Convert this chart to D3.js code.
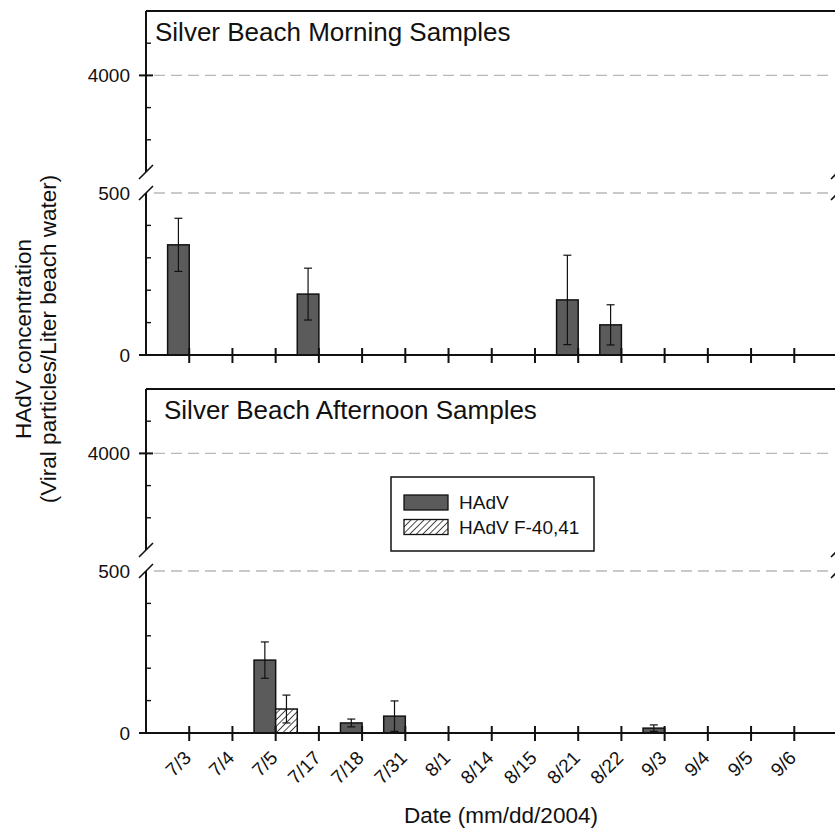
<!DOCTYPE html>
<html>
<head>
<meta charset="utf-8">
<script src="https://cdn.jsdelivr.net/npm/d3@7"></script>
<style>
  html, body { margin: 0; padding: 0; background: #fff; }
  svg { display: block; }
  text { font-family: "Liberation Sans", Arial, Helvetica, sans-serif; fill: #111; }
</style>
</head>
<body>
<div id="chart"></div>
<script>
// ---- data ----
const categories = ["7/3","7/4","7/5","7/17","7/18","7/31","8/1","8/14","8/15","8/21","8/22","9/3","9/4","9/5","9/6"];
const seriesNames = ["HAdV", "HAdV F-40,41"];
const panelTitles = ["Silver Beach Morning Samples", "Silver Beach Afternoon Samples"];

const morningHAdV     = [340, 0, 0, 188, 0, 0, 0, 0, 0, 170, 93, 0, 0, 0, 0];
const morningHAdVErr  = [82, 0, 0, 80, 0, 0, 0, 0, 0, 138, 62, 0, 0, 0, 0];
const morningF        = [0, 0, 0, 0, 0, 0, 0, 0, 0, 0, 0, 0, 0, 0, 0];
const morningFErr     = [0, 0, 0, 0, 0, 0, 0, 0, 0, 0, 0, 0, 0, 0, 0];

const afternoonHAdV    = [0, 0, 225, 0, 31, 52, 0, 0, 0, 0, 0, 15, 0, 0, 0];
const afternoonHAdVErr = [0, 0, 56, 0, 12, 47, 0, 0, 0, 0, 0, 10, 0, 0, 0];
const afternoonF       = [0, 0, 74, 0, 0, 0, 0, 0, 0, 0, 0, 0, 0, 0, 0];
const afternoonFErr    = [0, 0, 43, 0, 0, 0, 0, 0, 0, 0, 0, 0, 0, 0, 0];

const upperDomain = [1000, 6000];
const lowerDomain = [0, 500];
const upperMinorTicks = [2000, 3000, 5000];
const upperMajorTicks = [4000];
const lowerMinorTicks = [100, 200, 300, 400];
const lowerLabelTicks = [0, 500];
const dashedValuesUpper = [4000];
const dashedValuesLower = [500];

const yTitleLines = ["HAdV concentration", "(Viral particles/Liter beach water)"];
const xTitle = "Date (mm/dd/2004)";

// ---- layout ----
const W = 835, H = 829;
const axisX = 146;
const barFill = "#5b5b5b";

const svg = d3.select("#chart").append("svg").attr("width", W).attr("height", H);

const defs = svg.append("defs");
const pat = defs.append("pattern")
  .attr("id", "hatch")
  .attr("patternUnits", "userSpaceOnUse")
  .attr("width", 4.6).attr("height", 4.6)
  .attr("patternTransform", "rotate(45)");
pat.append("rect").attr("width", 4.6).attr("height", 4.6).attr("fill", "#fff");
pat.append("line").attr("x1", 0).attr("y1", 0).attr("x2", 0).attr("y2", 4.6)
  .attr("stroke", "#111").attr("stroke-width", 1.5);

const x = d3.scaleBand().domain(categories).range([axisX, 837.5]).paddingInner(0).paddingOuter(0.5);
const bw = x.bandwidth() / 2;

const panels = [
  { title: panelTitles[0], top: 11, titleX: 155, h: morningHAdV, he: morningHAdVErr, f: morningF, fe: morningFErr, labels: false },
  { title: panelTitles[1], top: 389, titleX: 164, h: afternoonHAdV, he: afternoonHAdVErr, f: afternoonF, fe: afternoonFErr, labels: true }
];

panels.forEach(p => {
  const T = p.top;
  const yU = d3.scaleLinear().domain(upperDomain).range([T + 161, T]);
  const yL = d3.scaleLinear().domain(lowerDomain).range([T + 344, T + 182]);
  const g = svg.append("g");

  // dashed reference lines
  g.selectAll(".du").data(dashedValuesUpper).join("line")
    .attr("x1", axisX + 8).attr("x2", 828)
    .attr("y1", d => yU(d)).attr("y2", d => yU(d))
    .attr("stroke", "#b8b8b8").attr("stroke-width", 1.4).attr("stroke-dasharray", "11,6");
  g.selectAll(".dl").data(dashedValuesLower).join("line")
    .attr("x1", axisX + 8).attr("x2", 828)
    .attr("y1", d => yL(d)).attr("y2", d => yL(d))
    .attr("stroke", "#b8b8b8").attr("stroke-width", 1.4).attr("stroke-dasharray", "11,6");

  // frame top
  g.append("line").attr("x1", axisX).attr("x2", W).attr("y1", T).attr("y2", T)
    .attr("stroke", "#111").attr("stroke-width", 2);

  // y axis segments
  const bU = yU(upperDomain[0]), bL = yL(lowerDomain[1]);
  g.append("line").attr("x1", axisX).attr("x2", axisX).attr("y1", T).attr("y2", bU)
    .attr("stroke", "#111").attr("stroke-width", 2);
  g.append("line").attr("x1", axisX).attr("x2", axisX).attr("y1", bL).attr("y2", yL(0))
    .attr("stroke", "#111").attr("stroke-width", 2);
  // break marks (left and right)
  [axisX, 838].forEach(ax => {
    [bU, bL].forEach(by => {
      g.append("line").attr("x1", ax - 7).attr("y1", by + 7).attr("x2", ax + 7).attr("y2", by - 7)
        .attr("stroke", "#111").attr("stroke-width", 1.6);
    });
  });

  // minor ticks
  g.selectAll(".mu").data(upperMinorTicks).join("line")
    .attr("x1", axisX).attr("x2", axisX + 5)
    .attr("y1", d => yU(d)).attr("y2", d => yU(d))
    .attr("stroke", "#111").attr("stroke-width", 1.4);
  g.selectAll(".ml").data(lowerMinorTicks).join("line")
    .attr("x1", axisX).attr("x2", axisX + 5)
    .attr("y1", d => yL(d)).attr("y2", d => yL(d))
    .attr("stroke", "#111").attr("stroke-width", 1.4);
  g.selectAll(".Mu").data(upperMajorTicks).join("line")
    .attr("x1", axisX - 7).attr("x2", axisX + 7)
    .attr("y1", d => yU(d)).attr("y2", d => yU(d))
    .attr("stroke", "#111").attr("stroke-width", 2);

  // y labels
  g.selectAll(".lu").data(upperMajorTicks).join("text")
    .attr("x", 130).attr("y", d => yU(d)).attr("dy", "0.36em")
    .attr("text-anchor", "end").attr("font-size", 19).text(d => d);
  g.selectAll(".ll").data(lowerLabelTicks).join("text")
    .attr("x", 130).attr("y", d => yL(d)).attr("dy", "0.36em")
    .attr("text-anchor", "end").attr("font-size", 19).text(d => d);

  // title
  g.append("text").attr("x", p.titleX).attr("y", T + 30)
    .attr("font-size", 26).text(p.title);

  // bars
  const rowsH = categories.map((c, i) => ({ c, v: p.h[i], e: p.he[i] })).filter(d => d.v > 0);
  const rowsF = categories.map((c, i) => ({ c, v: p.f[i], e: p.fe[i] })).filter(d => d.v > 0);

  g.selectAll(".bh").data(rowsH).join("rect")
    .attr("x", d => x(d.c)).attr("width", bw)
    .attr("y", d => yL(d.v)).attr("height", d => yL(0) - yL(d.v))
    .attr("fill", barFill).attr("stroke", "#111").attr("stroke-width", 1.5);
  g.selectAll(".bf").data(rowsF).join("rect")
    .attr("x", d => x(d.c) + bw).attr("width", bw)
    .attr("y", d => yL(d.v)).attr("height", d => yL(0) - yL(d.v))
    .attr("fill", "url(#hatch)").attr("stroke", "#111").attr("stroke-width", 1.5);

  // error bars
  const errs = rowsH.map(d => ({ cx: x(d.c) + bw / 2, v: d.v, e: d.e }))
    .concat(rowsF.map(d => ({ cx: x(d.c) + bw * 1.5, v: d.v, e: d.e })));
  errs.forEach(d => {
    const lo = Math.max(0, d.v - d.e), hi = d.v + d.e;
    g.append("line").attr("x1", d.cx).attr("x2", d.cx).attr("y1", yL(lo)).attr("y2", yL(hi))
      .attr("stroke", "#111").attr("stroke-width", 1.2);
    [lo, hi].forEach(v => {
      g.append("line").attr("x1", d.cx - 4).attr("x2", d.cx + 4).attr("y1", yL(v)).attr("y2", yL(v))
        .attr("stroke", "#111").attr("stroke-width", 1.2);
    });
  });

  // x axis
  const y0 = yL(0);
  g.append("line").attr("x1", axisX - 7).attr("x2", W).attr("y1", y0).attr("y2", y0)
    .attr("stroke", "#111").attr("stroke-width", 2);
  g.selectAll(".xt").data(categories).join("line")
    .attr("x1", d => x(d) + bw).attr("x2", d => x(d) + bw)
    .attr("y1", y0 - 7).attr("y2", y0 + 8)
    .attr("stroke", "#111").attr("stroke-width", 2);
  if (p.labels) {
    g.selectAll(".xl").data(categories).join("text")
      .attr("transform", d => `translate(${x(d) + bw + 3},${y0 + 26}) rotate(-45)`)
      .attr("text-anchor", "end").attr("font-size", 19).text(d => d);
  }
});

// legend
const leg = svg.append("g");
leg.append("rect").attr("x", 391).attr("y", 477).attr("width", 203).attr("height", 74)
  .attr("fill", "#fff").attr("stroke", "#111").attr("stroke-width", 1.5);
const legFills = [barFill, "url(#hatch)"];
seriesNames.forEach((s, i) => {
  leg.append("rect").attr("x", 404).attr("y", 495 + i * 24.5).attr("width", 44).attr("height", 15)
    .attr("fill", legFills[i]).attr("stroke", "#111").attr("stroke-width", 1.3);
  leg.append("text").attr("x", 459).attr("y", 509 + i * 24.5).attr("font-size", 19).text(s);
});

// axis titles
svg.append("text").attr("transform", "translate(31,339) rotate(-90)")
  .attr("text-anchor", "middle").attr("font-size", 22.5).text(yTitleLines[0]);
svg.append("text").attr("transform", "translate(56,339) rotate(-90)")
  .attr("text-anchor", "middle").attr("font-size", 22.5).text(yTitleLines[1]);
svg.append("text").attr("x", 501).attr("y", 823)
  .attr("text-anchor", "middle").attr("font-size", 22.5).text(xTitle);
</script>
</body>
</html>
